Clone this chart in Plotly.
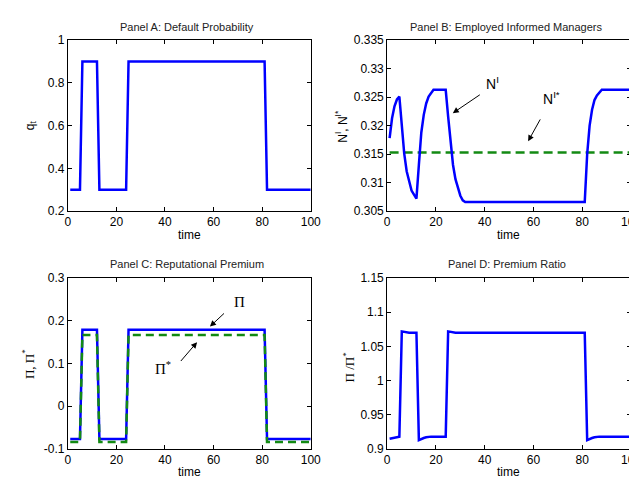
import plotly.graph_objects as go

# ---------------- data ----------------
time = list(range(1, 101))

q_t = [0.3] * 5 + [0.9] * 7 + [0.3] * 12 + [0.9] * 57 + [0.3] * 19

n_informed = ([0.3178, 0.3213, 0.3234, 0.3246, 0.3251,
               0.3194, 0.3151, 0.3120, 0.3100, 0.3086, 0.3079, 0.3072,
               0.3131, 0.3188, 0.3219, 0.3239, 0.3251, 0.3257, 0.3263]
              + [0.3263] * 5
              + [0.3216, 0.3171, 0.3131, 0.3106, 0.3089, 0.3077, 0.3069, 0.3066]
              + [0.3066] * 49
              + [0.3150, 0.3200, 0.3228, 0.3245, 0.3253, 0.3259, 0.3263]
              + [0.3263] * 12)
n_informed_star = [0.3153] * 100

premium = [-0.077] * 5 + [0.179] * 7 + [-0.077] * 12 + [0.179] * 57 + [-0.077] * 19
premium_star = [-0.084] * 5 + [0.167] * 7 + [-0.084] * 12 + [0.167] * 57 + [-0.084] * 19

premium_ratio = ([0.915, 0.916, 0.917, 0.917, 0.918]
                 + [1.072, 1.071, 1.070, 1.070, 1.070, 1.070, 1.070]
                 + [0.913, 0.915, 0.916, 0.917]
                 + [0.918] * 8
                 + [1.072, 1.071]
                 + [1.070] * 55
                 + [0.913, 0.915, 0.916, 0.917]
                 + [0.918] * 15)

x_ticks = [0, 20, 40, 60, 80, 100]
x_ticktext = ["0", "20", "40", "60", "80", "100"]
a_ticks = [0.2, 0.4, 0.6, 0.8, 1.0]
a_ticktext = ["0.2", "0.4", "0.6", "0.8", "1"]
b_ticks = [0.305, 0.31, 0.315, 0.32, 0.325, 0.33, 0.335]
b_ticktext = ["0.305", "0.31", "0.315", "0.32", "0.325", "0.33", "0.335"]
c_ticks = [-0.1, 0.0, 0.1, 0.2, 0.3]
c_ticktext = ["-0.1", "0", "0.1", "0.2", "0.3"]
d_ticks = [0.9, 0.95, 1.0, 1.05, 1.1, 1.15]
d_ticktext = ["0.9", "0.95", "1", "1.05", "1.1", "1.15"]

panel_titles = ["Panel A: Default Probability", "Panel B: Employed Informed Managers",
                "Panel C: Reputational Premium", "Panel D: Premium Ratio"]

# ---------------- styling ----------------
W, H = 637, 479
BLUE = "#0000FF"
GREEN = "#138a13"
SANS = "Liberation Sans, Arial, sans-serif"
SERIF = "Liberation Serif, Times New Roman, serif"


def px(x):
    return x / W


def py(y):
    return 1 - y / H


fig = go.Figure()

# Panel A
fig.add_trace(go.Scatter(x=time, y=q_t, mode="lines", line=dict(color=BLUE, width=2.5),
                         xaxis="x", yaxis="y", showlegend=False))
# Panel B
fig.add_trace(go.Scatter(x=time, y=n_informed_star, mode="lines",
                         line=dict(color=GREEN, width=2.5, dash="9px,5px"),
                         xaxis="x2", yaxis="y2", showlegend=False))
fig.add_trace(go.Scatter(x=time, y=n_informed, mode="lines", line=dict(color=BLUE, width=2.5),
                         xaxis="x2", yaxis="y2", showlegend=False))
# Panel C
fig.add_trace(go.Scatter(x=time, y=premium, mode="lines", line=dict(color=BLUE, width=2.5),
                         xaxis="x3", yaxis="y3", showlegend=False))
fig.add_trace(go.Scatter(x=time, y=premium_star, mode="lines",
                         line=dict(color=GREEN, width=2.5, dash="8px,5px"),
                         xaxis="x3", yaxis="y3", showlegend=False))
# Panel D
fig.add_trace(go.Scatter(x=time, y=premium_ratio, mode="lines", line=dict(color=BLUE, width=2.5),
                         xaxis="x4", yaxis="y4", showlegend=False))

left_dom = [px(58), px(306)]
right_dom = [px(384), px(633)]
top_dom = [py(202), py(26)]
bot_dom = [py(447), py(271)]

common = dict(showline=True, linecolor="black", linewidth=1, mirror="ticks",
              ticks="inside", ticklen=4, tickwidth=1, tickcolor="black",
              showgrid=False, zeroline=False,
              tickfont=dict(family=SANS, size=12, color="black"))


def xax(dom, anchor):
    return dict(domain=dom, anchor=anchor, range=[0, 100], tickmode="array",
                tickvals=x_ticks, ticktext=x_ticktext, **common)


def yax(dom, anchor, rng, tv, tt):
    return dict(domain=dom, anchor=anchor, range=rng, tickmode="array",
                tickvals=tv, ticktext=tt, **common)


fig.update_layout(
    width=W, height=H, margin=dict(l=0, r=0, t=0, b=0),
    paper_bgcolor="white", plot_bgcolor="white",
    xaxis=xax(left_dom, "y"), yaxis=yax(top_dom, "x", [0.2, 1.0], a_ticks, a_ticktext),
    xaxis2=xax(right_dom, "y2"), yaxis2=yax(top_dom, "x2", [0.305, 0.335], b_ticks, b_ticktext),
    xaxis3=xax(left_dom, "y3"), yaxis3=yax(bot_dom, "x3", [-0.1, 0.3], c_ticks, c_ticktext),
    xaxis4=xax(right_dom, "y4"), yaxis4=yax(bot_dom, "x4", [0.9, 1.15], d_ticks, d_ticktext),
)

ann = []
# panel titles
for t, (cx, cy) in zip(panel_titles, [(180, 12), (505, 12), (180, 257), (506, 257)]):
    ann.append(dict(text=t, x=px(cx), y=py(cy), xref="paper", yref="paper",
                    showarrow=False, xanchor="center", yanchor="middle",
                    font=dict(family=SANS, size=11, color="#222")))
# x axis labels
for cx, cy in [(182, 227), (508, 227), (182, 471), (508, 471)]:
    ann.append(dict(text="time", x=px(cx), y=py(cy), xref="paper", yref="paper",
                    showarrow=False, xanchor="center", yanchor="middle",
                    font=dict(family=SANS, size=12, color="black")))
# y axis labels
ann.append(dict(text="q<sub>t</sub>", x=px(20), y=py(114), xref="paper", yref="paper",
                showarrow=False, textangle=-90, xanchor="center", yanchor="middle",
                font=dict(family=SANS, size=12, color="black")))
ann.append(dict(text="N<sup>I</sup>, N<sup>I*</sup>", x=px(337), y=py(115), xref="paper", yref="paper",
                showarrow=False, textangle=-90, xanchor="center", yanchor="middle",
                font=dict(family=SANS, size=12, color="black")))
ann.append(dict(text="\u03a0, \u03a0<sup>*</sup>", x=px(18), y=py(360), xref="paper", yref="paper",
                showarrow=False, textangle=-90, xanchor="center", yanchor="middle",
                font=dict(family=SERIF, size=13, color="black")))
ann.append(dict(text="\u03a0 /\u03a0<sup>*</sup>", x=px(345), y=py(362), xref="paper", yref="paper",
                showarrow=False, textangle=-90, xanchor="center", yanchor="middle",
                font=dict(family=SERIF, size=13, color="black")))

# in-plot labels and arrows
arrow_style = dict(showarrow=True, arrowhead=2, arrowsize=1.2, arrowwidth=1,
                   arrowcolor="black", text="")
ann.append(dict(x=26.9, y=0.3222, ax=38.6, ay=0.3256, xref="x2", yref="y2",
                axref="x2", ayref="y2", **arrow_style))
ann.append(dict(text="N<sup>I</sup>", x=43.0, y=0.3275, xref="x2", yref="y2", showarrow=False,
                font=dict(family=SANS, size=14, color="black")))
ann.append(dict(x=57.8, y=0.31727, ax=63.1, ay=0.32136, xref="x2", yref="y2",
                axref="x2", ayref="y2", **arrow_style))
ann.append(dict(text="N<sup>I*</sup>", x=67.5, y=0.3248, xref="x2", yref="y2", showarrow=False,
                font=dict(family=SANS, size=14, color="black")))

ann.append(dict(x=58.5, y=0.1864, ax=64.9, ay=0.2205, xref="x3", yref="y3",
                axref="x3", ayref="y3", **arrow_style))
ann.append(dict(text="\u03a0", x=70.6, y=0.243, xref="x3", yref="y3", showarrow=False,
                font=dict(family=SERIF, size=15, color="black")))
ann.append(dict(x=53.2, y=0.15, ax=46.0, ay=0.1023, xref="x3", yref="y3",
                axref="x3", ayref="y3", **arrow_style))
ann.append(dict(text="\u03a0<sup>*</sup>", x=39.1, y=0.0886, xref="x3", yref="y3", showarrow=False,
                font=dict(family=SERIF, size=15, color="black")))

fig.update_layout(annotations=ann)
fig.write_html("out.html")
